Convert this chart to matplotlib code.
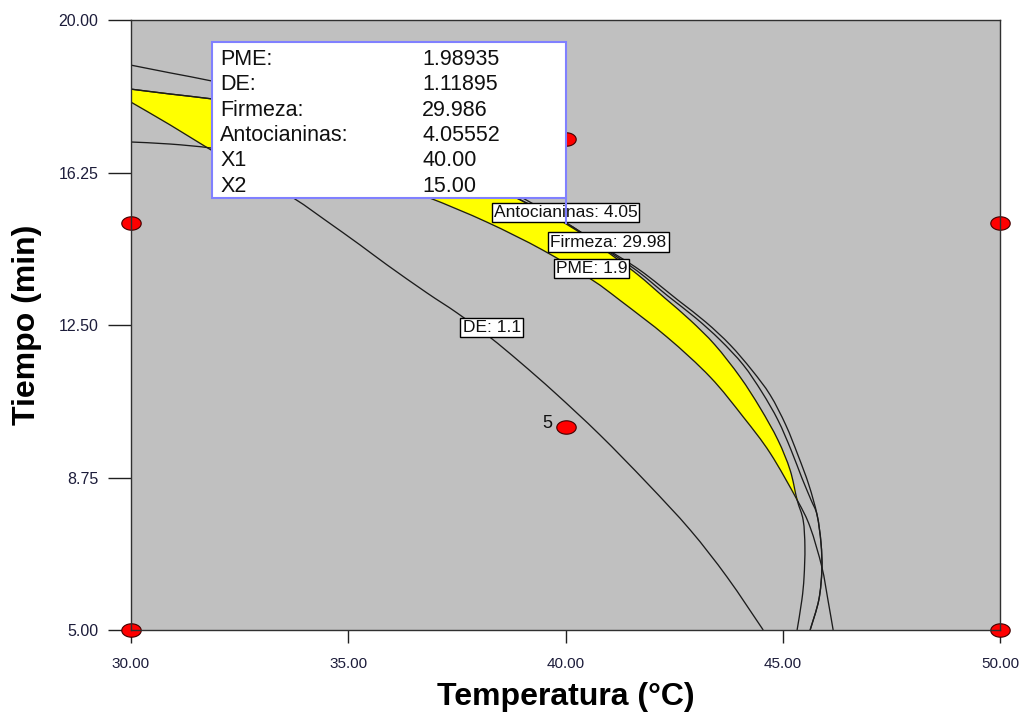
import numpy as np
import matplotlib
matplotlib.use("Agg")
import matplotlib.pyplot as plt
from matplotlib.path import Path
from matplotlib.patches import Rectangle, PathPatch

plt.rcParams['font.family'] = ['Liberation Sans', 'DejaVu Sans']

# ---- axes ----
x_ticks = [30.00, 35.00, 40.00, 45.00, 50.00]
y_ticks = [5.00, 8.75, 12.50, 16.25, 20.00]

# ---- contour lines: temperature (x) vs time (y) ----
de_x = [30.00, 30.90, 31.77, 32.74, 33.77, 34.47, 35.27, 35.89, 36.81, 37.50,
        38.26, 38.95, 39.76, 40.79, 41.88, 42.87, 43.72, 44.55]
de_y = [17.98, 17.42, 16.85, 16.24, 15.60, 15.08, 14.47, 13.98, 13.29, 12.80,
        12.20, 11.59, 10.83, 9.80, 8.61, 7.46, 6.30, 5.00]

pme_x = [30.00, 30.90, 31.86, 32.97, 34.12, 35.27, 36.19, 36.88, 38.19, 39.48,
         40.61, 41.25, 42.34, 43.33, 44.09, 44.71, 45.33, 45.63, 45.90, 46.04, 46.16]
pme_y = [17.00, 16.95, 16.85, 16.66, 16.41, 16.11, 15.84, 15.62, 15.03, 14.34,
         13.61, 13.11, 12.20, 11.22, 10.24, 9.35, 8.20, 7.53, 6.55, 5.74, 5.00]

firmeza_x = [30.00, 30.90, 31.86, 32.97, 34.12, 35.27, 36.42, 37.57, 38.88, 39.53,
             40.17, 40.91, 41.65, 42.29, 42.87, 43.44, 44.02, 44.48, 44.89, 45.17,
             45.33, 45.47, 45.51, 45.49, 45.44, 45.33]
firmeza_y = [18.30, 18.18, 18.06, 17.89, 17.61, 17.27, 16.85, 16.36, 15.62, 15.28,
             14.91, 14.34, 13.75, 13.16, 12.62, 12.01, 11.22, 10.46, 9.67, 8.93,
             8.20, 7.70, 7.04, 6.30, 5.74, 5.00]

antoc_x = [30.00, 30.90, 31.86, 32.97, 34.12, 35.27, 36.42, 37.57, 38.88, 39.53,
           40.17, 40.91, 41.65, 42.36, 43.00, 43.56, 44.09, 44.52, 44.89, 45.19,
           45.44, 45.65, 45.79, 45.88, 45.90, 45.83, 45.63]
antoc_y = [18.30, 18.18, 18.06, 17.89, 17.61, 17.27, 16.85, 16.36, 15.62, 15.28,
           14.91, 14.37, 13.83, 13.21, 12.67, 12.13, 11.52, 10.85, 10.16, 9.43,
           8.74, 8.20, 7.83, 7.14, 6.48, 5.74, 5.00]

# outer contour (its label lies under the flag)
outer_x = [30.00, 30.90, 31.86, 32.97, 34.12, 35.27, 36.42, 37.57, 39.02, 39.87,
           40.79, 41.71, 42.59, 43.23, 43.79, 44.29, 44.71, 45.07, 45.35, 45.60,
           45.79, 45.88, 45.90, 45.83, 45.63]
outer_y = [18.89, 18.70, 18.50, 18.23, 17.89, 17.47, 16.98, 16.43, 15.62, 15.08,
           14.47, 13.85, 13.11, 12.57, 12.01, 11.39, 10.78, 10.04, 9.30, 8.57,
           7.83, 7.14, 6.48, 5.74, 5.00]

contour_labels = ["Antocianinas: 4.05", "Firmeza: 29.98", "PME: 1.9", "DE: 1.1"]

# ---- design points ----
design_x = [30.0, 30.0, 40.0, 40.0, 50.0, 50.0]
design_y = [5.0, 15.0, 10.0, 17.07, 5.0, 15.0]
center_reps = 5

# ---- flagged point ----
flag_x, flag_y = 40.00, 15.00
flag_names = ["PME:", "DE:", "Firmeza:", "Antocianinas:", "X1", "X2"]
flag_values = ["1.98935", "1.11895", "29.986", "4.05552", "40.00", "15.00"]


def smooth_path(xs, ys, closing=()):
    """Catmull-Rom curve through the points, as cubic Bezier segments."""
    p = np.column_stack([xs, ys]).astype(float)
    ext = np.vstack([p[0], p, p[-1]])
    verts = [p[0]]
    codes = [Path.MOVETO]
    for i in range(1, len(ext) - 2):
        p0, p1, p2, p3 = ext[i - 1], ext[i], ext[i + 1], ext[i + 2]
        verts += [p1 + (p2 - p0) / 6.0, p2 - (p3 - p1) / 6.0, p2]
        codes += [Path.CURVE4] * 3
    for c in closing:
        verts.append(c)
        codes.append(Path.LINETO)
    if closing:
        verts.append(p[0])
        codes.append(Path.CLOSEPOLY)
    return Path(np.array(verts), codes)


W, H = 1028, 723
fig = plt.figure(figsize=(W / 100, H / 100), dpi=100)
fig.patch.set_facecolor('white')
ax = fig.add_axes([131 / W, 1 - 630 / H, 869 / W, 610 / H])
ax.set_facecolor('#c0c0c0')
ax.set_xlim(30, 50)
ax.set_ylim(5, 20)

# feasible (overlay) region
gx = np.linspace(30, 50, 1400)
gy = np.linspace(5, 20, 1100)
GX, GY = np.meshgrid(gx, gy)
pts = np.column_stack([GX.ravel(), GY.ravel()])


def region(cx, cy, closing):
    path = smooth_path(cx, cy, closing)
    return path.contains_points(pts).reshape(GX.shape)


below_firmeza = region(firmeza_x, firmeza_y,
                       [(firmeza_x[-1], 4), (29, 4), (29, firmeza_y[0])])


def upper_side(cx, cy):
    return region(cx, cy, [(cx[-1], 4), (51, 4), (51, 21), (29, 21), (29, cy[0])])


feasible = below_firmeza & upper_side(de_x, de_y) & upper_side(pme_x, pme_y)
ax.contourf(gx, gy, feasible.astype(float), levels=[0.5, 1.5], colors=['#ffff00'], zorder=1)

for cx, cy in [(de_x, de_y), (pme_x, pme_y), (firmeza_x, firmeza_y),
               (antoc_x, antoc_y), (outer_x, outer_y)]:
    ax.add_patch(PathPatch(smooth_path(cx, cy), fc='none', ec='#1c1c1c', lw=0.95, zorder=2))

# contour labels
lab_pos = [(40.00, 15.27), (40.99, 14.54), (40.60, 13.88), (38.30, 12.44)]
for txt, (lx, ly) in zip(contour_labels, lab_pos):
    ax.text(lx, ly, txt, fontsize=12.5, ha='center', va='center', color='#101010', zorder=5,
            bbox=dict(boxstyle='square,pad=0.12', fc='white', ec='black', lw=1.0))

# design points (elliptical markers)
t = np.linspace(0, 2 * np.pi, 60)
ell = Path(np.column_stack([1.45 * np.cos(t), np.sin(t)]))
ax.plot(design_x, design_y, ls='none', marker=ell, ms=14, mfc='#ff0000', mec='#400000',
        mew=0.8, clip_on=False, zorder=6)
ax.text(design_x[2] - 0.3, design_y[2] + 0.07, str(center_reps), fontsize=13,
        ha='right', va='center', color='#101010', zorder=6)

# flag box
box_l, box_r, box_b, box_t = 31.86, flag_x, 15.62, 19.46
ax.add_patch(Rectangle((box_l, box_b), box_r - box_l, box_t - box_b, fc='white',
                       ec='#8080ff', lw=1.5, zorder=8))
ax.plot([flag_x, flag_x], [box_b, flag_y], color='#8080ff', lw=1.5, zorder=8)
row_step = 25.3 / 40.667
for i, (n, v) in enumerate(zip(flag_names, flag_values)):
    yb = 18.89 - i * row_step
    ax.text(32.05, yb, n, fontsize=15.5, ha='left', va='baseline', color='#101010', zorder=9)
    ax.text(36.70, yb, v, fontsize=15.5, ha='left', va='baseline', color='#101010', zorder=9)

# axes styling
for s in ax.spines.values():
    s.set_color('#303030')
    s.set_linewidth(1.0)
    s.set_zorder(7)
ax.set_xticks(x_ticks)
ax.set_yticks(y_ticks)
ax.set_xticklabels([f"{v:.2f}" for v in x_ticks])
ax.set_yticklabels([f"{v:.2f}" for v in y_ticks])
ax.tick_params(axis='x', direction='out', length=9.5, width=1, color='#202020',
               pad=10, labelsize=11, labelcolor='#1c1c3a')
ax.tick_params(axis='y', direction='out', length=16.5, width=1, color='#202020',
               pad=7, labelsize=11.5, labelcolor='#1c1c3a')
ax.set_xlabel("Temperatura (°C)", fontsize=23, fontweight='bold', labelpad=8)
ax.set_ylabel("Tiempo (min)", fontsize=23, fontweight='bold', labelpad=12)

fig.savefig('out.png', dpi=100)
